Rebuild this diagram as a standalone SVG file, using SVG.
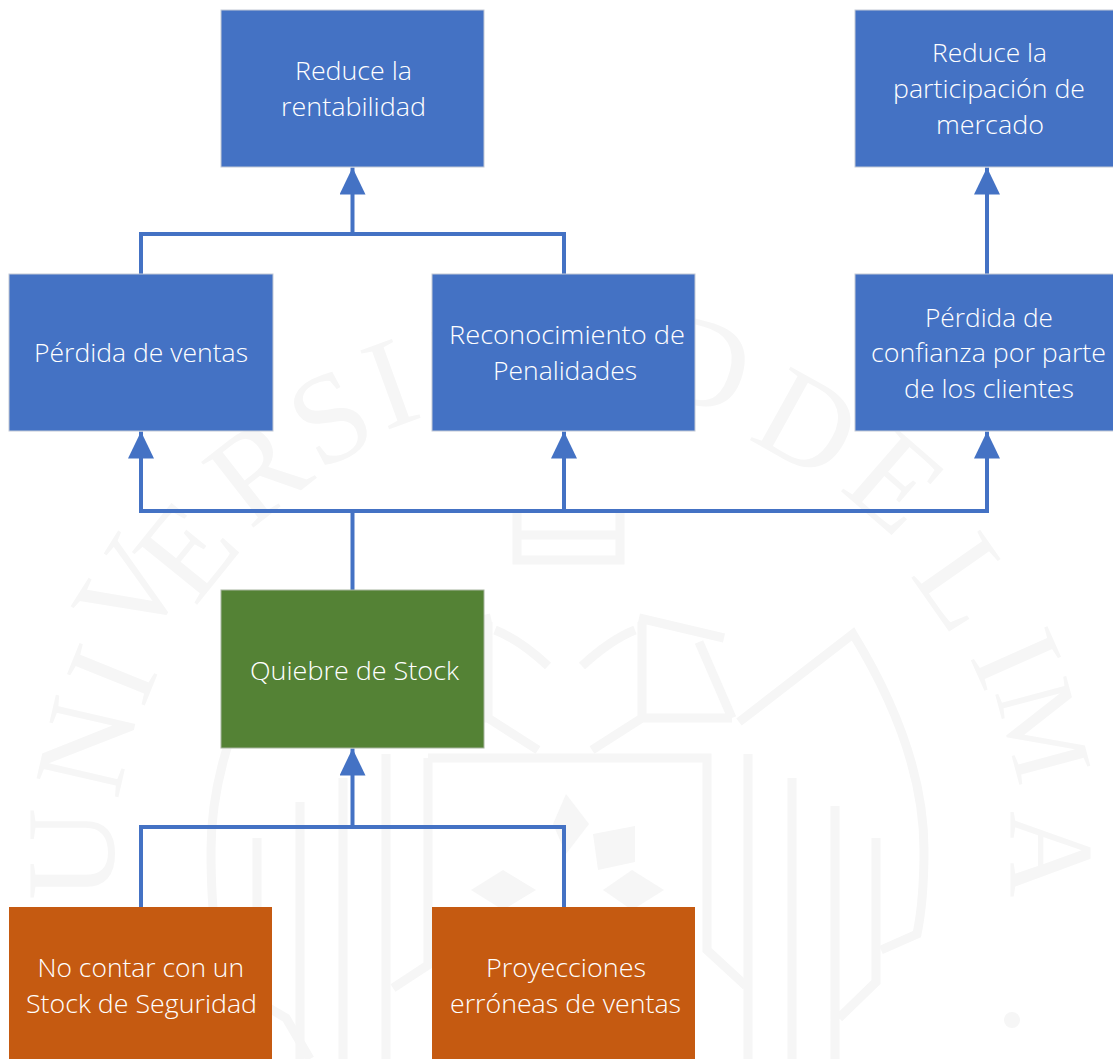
<svg xmlns="http://www.w3.org/2000/svg" width="1113" height="1059" viewBox="0 0 1113 1059">
<style>
.wm{font-family:"Liberation Serif",serif;font-size:128px;fill:#f6f6f6;text-anchor:middle}
.ws{fill:none;stroke:#f6f6f6;stroke-width:9}
.wf{fill:#f6f6f6}
.blue{fill:#4472C4;stroke:#c3cad6;stroke-width:1}
.green{fill:#548235;stroke:#a8b5a0;stroke-width:1}
.orange{fill:#C55A11}
.t{font-family:"Open Sans","Noto Sans",sans-serif;font-size:26px;font-weight:300;fill:#fff}
.c{fill:none;stroke:#4472C4;stroke-width:4;stroke-linejoin:miter}
</style>
<defs>
<marker id="arrow" markerUnits="userSpaceOnUse" markerWidth="26" markerHeight="27" viewBox="0 0 26 27" refX="13" refY="0" orient="0">
<polygon points="13,0 26,27 0,27" fill="#4472C4"/>
</marker>
</defs>
<rect width="1113" height="1059" fill="#fff"/>
<g id="watermark">
<text class="wm" transform="rotate(-90 71 854)" x="71" y="897">U</text>
<text class="wm" transform="rotate(-77 86 746)" x="86" y="789">N</text>
<text class="wm" transform="rotate(-68 111 674)" x="111" y="717">I</text>
<text class="wm" transform="rotate(-58 129 590)" x="129" y="633">V</text>
<text class="wm" transform="rotate(-51 186 550)" x="186" y="593">E</text>
<text class="wm" transform="rotate(-38 257 470)" x="257" y="513">R</text>
<text class="wm" transform="rotate(-28 330 417)" x="330" y="460">S</text>
<text class="wm" transform="rotate(-20 390 383)" x="390" y="426">I</text>
<text class="wm" transform="rotate(-10 480 365)" x="480" y="408">D</text>
<text class="wm" transform="rotate(2 590 360)" x="590" y="403">A</text>
<text class="wm" transform="rotate(15 703 363)" x="703" y="406">D</text>
<text class="wm" transform="rotate(29 808 423)" x="808" y="466">D</text>
<text class="wm" transform="rotate(41 896 482)" x="896" y="525">E</text>
<text class="wm" transform="rotate(55 967 582)" x="967" y="625">L</text>
<text class="wm" transform="rotate(66 1017 658)" x="1017" y="701">I</text>
<text class="wm" style="font-size:112px" transform="rotate(75 1044 730)" x="1044" y="768">M</text>
<text class="wm" style="font-size:120px" transform="rotate(90 1050 854)" x="1050" y="894">A</text>
<path class="ws" d="M739,722 L853,634 Q924,750 924,850 Q924,900 917,934 L881,950"/>
<path class="ws" d="M391,722 L277,634 Q211,750 211,850 Q211,950 230,985 L286,1018 L310,1059"/>
<path class="ws" d="M639,618 L724,638 M699,642 L732,718 M642,622 V718 H732 M642,718 L592,750 M582,666 Q610,640 635,630"/>
<path class="ws" d="M491,618 L406,638 M431,642 L398,718 M488,622 V718 H398 M488,718 L538,750 M548,666 Q520,640 495,630"/>
<path class="ws" d="M428,758 H707 V950 L746,986"/>
<path class="ws" d="M428,758 V965 L393,988"/>
<path class="ws" d="M748,754 V1059 M792,778 V1059 M835,806 V1059 M876,838 V982 L839,1018 M386,754 V1059 M343,778 V1059 M300,802 V1059 M257,838 V1018"/>
<path class="ws" d="M517,512 V560 H620 V512 M517,535 H620"/>
<polygon class="wf" points="593,834 635,826 635,862 598,870"/>
<polygon class="wf" points="603,890 632,870 664,890 632,910"/>
<polygon class="wf" points="553,824 566,794 589,824 566,854"/>
<polygon class="wf" points="471,890 503,870 536,890 503,910"/>
<circle class="wf" cx="1012" cy="1020" r="8"/>
</g>
<g id="connectors">
<path class="c" d="M141,274 V234 H564 V274"/>
<path class="c" marker-end="url(#arrow)" d="M352.5,234 V167.500"/>
<path class="c" marker-end="url(#arrow)" d="M987,274 V167.500"/>
<path class="c" d="M352.5,590 V511"/>
<path class="c" marker-end="url(#arrow)" d="M141,511 V431.500"/>
<path class="c" marker-end="url(#arrow)" d="M564,511 V431.500"/>
<path class="c" marker-end="url(#arrow)" d="M987,511 V431.500"/>
<path class="c" d="M139,511 H989"/>
<path class="c" marker-end="url(#arrow)" d="M352.5,827 V748.500"/>
<path class="c" d="M141,907 V827 H564 V907"/>
</g>
<g id="n1"><rect class="blue" x="221" y="10" width="263" height="157"/>
<text class="t" x="295" y="80" textLength="117" lengthAdjust="spacingAndGlyphs">Reduce la</text>
<text class="t" x="281" y="116" textLength="145" lengthAdjust="spacingAndGlyphs">rentabilidad</text></g>
<g id="n2"><rect class="blue" x="855" y="10" width="263" height="157"/>
<text class="t" x="932" y="62" textLength="115" lengthAdjust="spacingAndGlyphs">Reduce la</text>
<text class="t" x="893" y="98" textLength="192" lengthAdjust="spacingAndGlyphs">participación de</text>
<text class="t" x="936" y="134" textLength="108" lengthAdjust="spacingAndGlyphs">mercado</text></g>
<g id="n3"><rect class="blue" x="9" y="274" width="264" height="157"/>
<text class="t" x="34" y="362" textLength="214" lengthAdjust="spacingAndGlyphs">Pérdida de ventas</text></g>
<g id="n4"><rect class="blue" x="432" y="274" width="263" height="157"/>
<text class="t" x="449" y="344" textLength="236" lengthAdjust="spacingAndGlyphs">Reconocimiento de</text>
<text class="t" x="493" y="380" textLength="144" lengthAdjust="spacingAndGlyphs">Penalidades</text></g>
<g id="n5"><rect class="blue" x="855" y="274" width="263" height="157"/>
<text class="t" x="925" y="327" textLength="128" lengthAdjust="spacingAndGlyphs">Pérdida de</text>
<text class="t" x="871" y="362" textLength="235" lengthAdjust="spacingAndGlyphs">confianza por parte</text>
<text class="t" x="904" y="398" textLength="170" lengthAdjust="spacingAndGlyphs">de los clientes</text></g>
<g id="n6"><rect class="green" x="221" y="590" width="263" height="158"/>
<text class="t" x="250" y="680" textLength="209" lengthAdjust="spacingAndGlyphs">Quiebre de Stock</text></g>
<g id="n7"><rect class="orange" x="9" y="907" width="263" height="152"/>
<text class="t" x="37.500" y="977" textLength="206.500" lengthAdjust="spacingAndGlyphs">No contar con un</text>
<text class="t" x="26" y="1013" textLength="231" lengthAdjust="spacingAndGlyphs">Stock de Seguridad</text></g>
<g id="n8"><rect class="orange" x="432" y="907" width="263" height="152"/>
<text class="t" x="486" y="977" textLength="160" lengthAdjust="spacingAndGlyphs">Proyecciones</text>
<text class="t" x="450" y="1013" textLength="231" lengthAdjust="spacingAndGlyphs">erróneas de ventas</text></g>
</svg>
